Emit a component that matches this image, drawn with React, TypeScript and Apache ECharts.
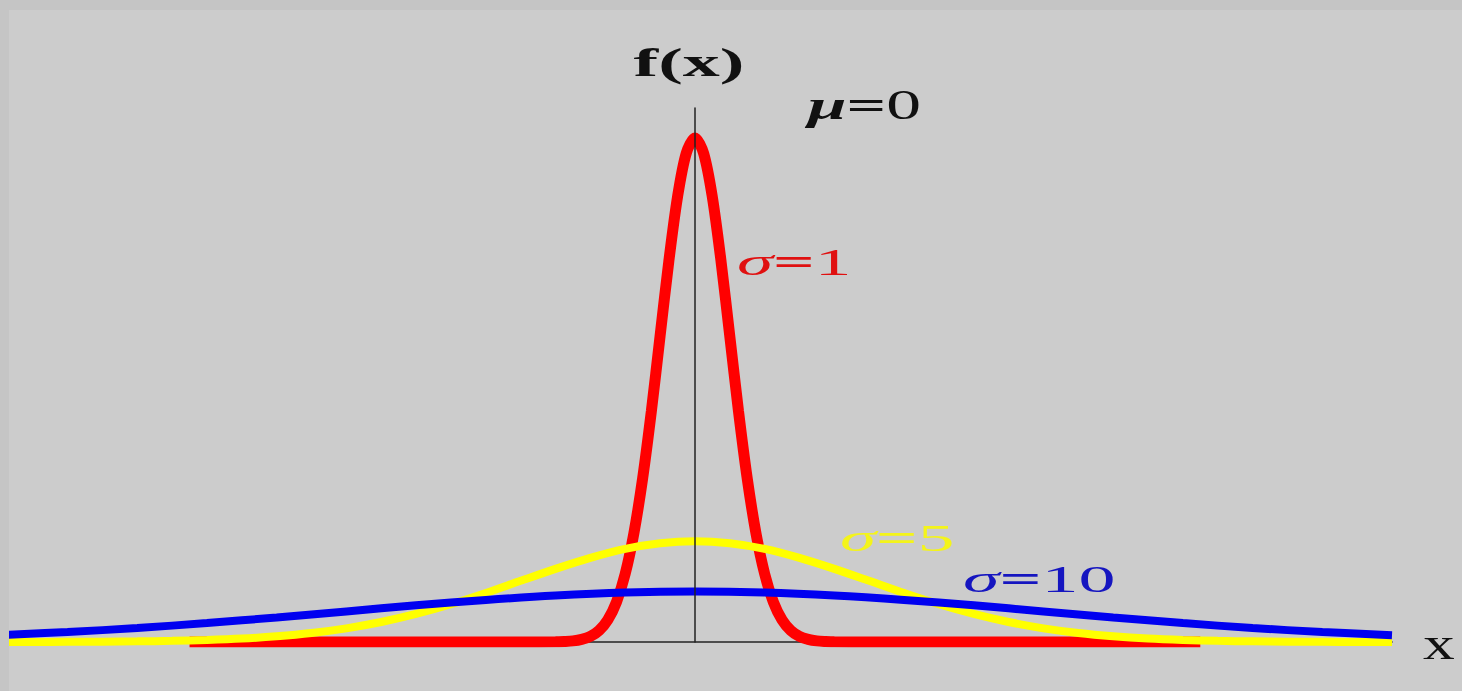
import React, { useEffect, useRef } from "react";
import * as echarts from "echarts";

// Normal density curves, mu = 0, for three standard deviations.
const redX = [
  -14.5, -5, -4, -3.75, -3.5, -3.25, -3, -2.75, -2.5, -2.25, -2, -1.75, -1.5, -1.25, -1, -0.75, -0.5, -0.25, 0,
  0.25, 0.5, 0.75, 1, 1.25, 1.5, 1.75, 2, 2.25, 2.5, 2.75, 3, 3.25, 3.5, 3.75, 4, 5, 14.5,
];
const redY = [
  0, 0, 0.0001, 0.0004, 0.0009, 0.0021, 0.0044, 0.0091, 0.0175, 0.0317, 0.054, 0.0863, 0.1295, 0.1826, 0.242, 0.3011, 0.3521, 0.3867, 0.3989,
  0.3867, 0.3521, 0.3011, 0.242, 0.1826, 0.1295, 0.0863, 0.054, 0.0317, 0.0175, 0.0091, 0.0044, 0.0021, 0.0009, 0.0004, 0.0001, 0, 0,
];

const yellowX = [
  -20, -19, -18, -17, -16, -15, -14, -13, -12, -11, -10, -9, -8, -7, -6, -5, -4, -3, -2, -1, 0,
  1, 2, 3, 4, 5, 6, 7, 8, 9, 10, 11, 12, 13, 14, 15, 16, 17, 18, 19, 20,
];
const yellowY = [
  0, 0, 0.0001, 0.0002, 0.0005, 0.0009, 0.0016, 0.0027, 0.0045, 0.0071, 0.0108, 0.0158, 0.0222, 0.0299, 0.0388, 0.0484, 0.0579, 0.0666, 0.0737, 0.0782, 0.0798,
  0.0782, 0.0737, 0.0666, 0.0579, 0.0484, 0.0388, 0.0299, 0.0222, 0.0158, 0.0108, 0.0071, 0.0045, 0.0027, 0.0016, 0.0009, 0.0005, 0.0002, 0.0001, 0, 0,
];

const blueX = [-20, -18, -16, -14, -12, -10, -8, -6, -4, -2, 0, 2, 4, 6, 8, 10, 12, 14, 16, 18, 20];
const blueY = [
  0.0054, 0.0079, 0.0111, 0.015, 0.0194, 0.0242, 0.029, 0.0333, 0.0368, 0.0391, 0.0399,
  0.0391, 0.0368, 0.0333, 0.029, 0.0242, 0.0194, 0.015, 0.0111, 0.0079, 0.0054,
];

// Text annotations anchored in data coordinates.
const annotationTexts = ["{b|f(x)}", "{m|μ}{e|=}{n|0}", "{s|σ}{e|=}{n|1}", "{s|σ}{e|=}{n|5}", "{s|σ}{e|=}{n|10}", "{n|x}"];
const annotationX = [-0.17, 3.24, 1.205, 4.16, 7.69, 20.89];
const annotationY = [0.4585, 0.4255, 0.3, 0.0815, 0.0491, -0.0015];

const SERIF = '"Liberation Serif", "Times New Roman", serif';
const annotationStyle = [
  { color: "#111111", size: 40, scaleX: 1.85, align: "center" },
  { color: "#111111", size: 43, scaleX: 1.62, align: "left" },
  { color: "#e01010", size: 37, scaleX: 1.98, align: "left" },
  { color: "#f4f41a", size: 37, scaleX: 1.98, align: "left" },
  { color: "#1515c0", size: 37, scaleX: 2.0, align: "left" },
  { color: "#111111", size: 46, scaleX: 1.38, align: "left" },
];

const pairs = (xs: number[], ys: number[]) => xs.map((x, i) => [x, ys[i]]);

export default function App() {
  const ref = useRef<HTMLDivElement>(null);

  useEffect(() => {
    if (!ref.current) return;
    const chart = echarts.init(ref.current, undefined, { renderer: "svg" });
    chart.setOption({
      animation: false,
      backgroundColor: "#cccccc",
      grid: { left: 0, right: 70, top: 98, bottom: 49, containLabel: false },
      xAxis: {
        type: "value",
        min: -19.68,
        max: 20,
        axisLine: { show: true, lineStyle: { color: "#222222", width: 1.5 } },
        axisTick: { show: false },
        axisLabel: { show: false },
        splitLine: { show: false },
      },
      yAxis: {
        type: "value",
        min: 0,
        max: 0.4226,
        z: 5,
        axisLine: { show: true, onZero: true, lineStyle: { color: "#222222", width: 1.5 } },
        axisTick: { show: false },
        axisLabel: { show: false },
        splitLine: { show: false },
      },
      series: [
        {
          type: "line",
          data: pairs(redX, redY),
          smooth: 0.3,
          showSymbol: false,
          lineStyle: { color: "#ff0000", width: 11 },
        },
        {
          type: "line",
          data: pairs(yellowX, yellowY),
          smooth: 0.3,
          showSymbol: false,
          lineStyle: { color: "#ffff00", width: 8 },
        },
        {
          type: "line",
          data: pairs(blueX, blueY),
          smooth: 0.4,
          showSymbol: false,
          lineStyle: { color: "#0000f0", width: 8 },
        },
      ],
    });

    const graphic = annotationTexts.map((text, i) => {
      const st = annotationStyle[i];
      const [px, py] = chart.convertToPixel({ gridIndex: 0 }, [annotationX[i], annotationY[i]]) as number[];
      const base = { fontFamily: SERIF, fontSize: st.size, fill: st.color, color: st.color };
      return {
        type: "text",
        x: px,
        y: py,
        scaleX: st.scaleX,
        z: 10,
        style: {
          text,
          fill: st.color,
          font: `${st.size}px ${SERIF}`,
          textAlign: st.align,
          align: st.align,
          textVerticalAlign: "middle",
          verticalAlign: "middle",
          rich: {
            b: { ...base, fontWeight: "bold" },
            m: { ...base, fontWeight: "bold", fontStyle: "italic" },
            s: { ...base, fontStyle: "italic" },
            e: { ...base, fontWeight: "bold" },
            n: { ...base },
          },
        },
      };
    });
    chart.setOption({ graphic });

    return () => chart.dispose();
  }, []);

  return (
    <div style={{ position: "fixed", left: 0, top: 0, width: 1462, height: 691, background: "#c5c5c5" }}>
      <div ref={ref} style={{ position: "absolute", left: 9, top: 10, width: 1453, height: 681 }} />
    </div>
  );
}
